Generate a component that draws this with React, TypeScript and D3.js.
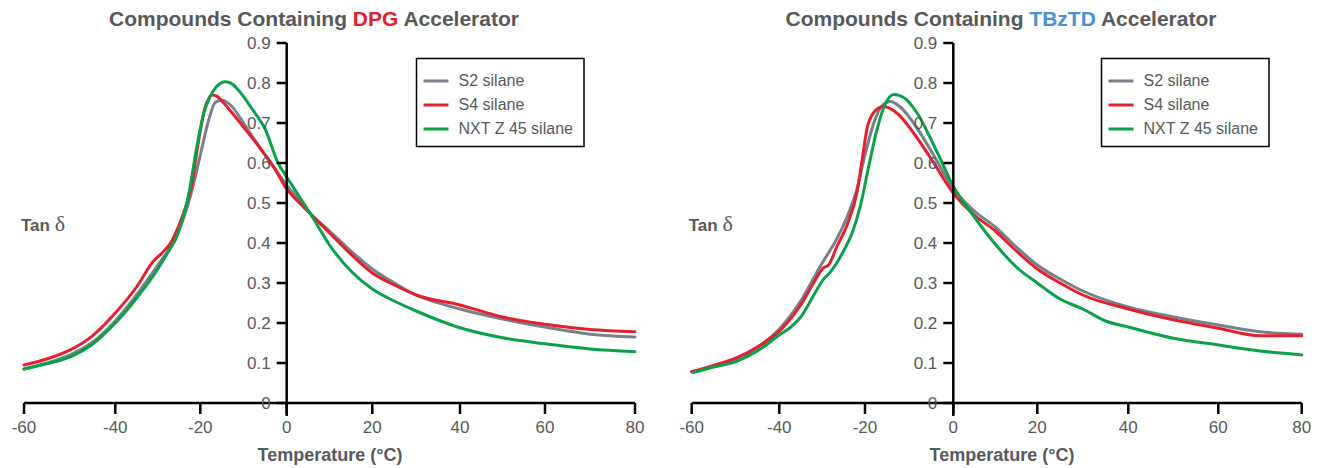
import React from 'react';
import * as d3 from 'd3';

// ---------- data ----------
const xTicks = [-60, -40, -20, 0, 20, 40, 60, 80];
const yTicks = [0, 0.1, 0.2, 0.3, 0.4, 0.5, 0.6, 0.7, 0.8, 0.9];
const seriesNames = ['S2 silane', 'S4 silane', 'NXT Z 45 silane'];
const seriesColors = ['#78818b', '#e5202e', '#0ba14b'];

// DPG accelerator
const dpgS2Temp = [-60, -55, -50, -45, -40, -35, -30, -27, -24, -22, -20, -18, -16.5, -15, -13, -10, -6, -3, 0, 3, 6, 10, 15, 20, 25, 30, 40, 50, 60, 70, 80];
const dpgS2Tan = [0.085, 0.1, 0.12, 0.152, 0.205, 0.27, 0.345, 0.39, 0.46, 0.53, 0.62, 0.71, 0.752, 0.757, 0.745, 0.7, 0.635, 0.59, 0.545, 0.505, 0.468, 0.43, 0.38, 0.335, 0.3, 0.27, 0.235, 0.21, 0.19, 0.172, 0.165];

const dpgS4Temp = [-60, -55, -50, -45, -40, -35, -31, -29, -27, -25, -23, -22, -21, -20, -19, -18, -17.3, -16, -15, -13, -10, -6, -3, 0, 3, 6, 10, 15, 20, 25, 30, 40, 50, 60, 70, 80];
const dpgS4Tan = [0.095, 0.11, 0.132, 0.168, 0.225, 0.29, 0.355, 0.375, 0.4, 0.445, 0.505, 0.545, 0.615, 0.68, 0.735, 0.762, 0.77, 0.766, 0.755, 0.73, 0.69, 0.635, 0.59, 0.535, 0.5, 0.468, 0.425, 0.372, 0.325, 0.295, 0.27, 0.245, 0.215, 0.197, 0.184, 0.178];

const dpgNxtTemp = [-60, -55, -50, -45, -40, -35, -30, -28, -25, -22.4, -21, -19.3, -17, -15.5, -14.3, -13, -11, -8, -5, -2, 0, 3, 6, 10, 15, 20, 25, 30, 40, 50, 60, 70, 80];
const dpgNxtTan = [0.085, 0.098, 0.115, 0.147, 0.2, 0.262, 0.335, 0.37, 0.43, 0.54, 0.63, 0.72, 0.78, 0.798, 0.803, 0.8, 0.78, 0.735, 0.685, 0.6, 0.565, 0.515, 0.465, 0.395, 0.33, 0.285, 0.255, 0.23, 0.188, 0.163, 0.148, 0.135, 0.128];

// TBzTD accelerator
const tbzS2Temp = [-60, -55, -50, -45, -40, -35, -30, -26.6, -24, -22, -20, -18, -16, -14.3, -12, -9, -5, 0, 5, 10, 15, 20, 25, 30, 40, 50, 60, 70, 80];
const tbzS2Tan = [0.078, 0.092, 0.108, 0.138, 0.185, 0.255, 0.35, 0.41, 0.47, 0.53, 0.62, 0.7, 0.745, 0.754, 0.74, 0.7, 0.63, 0.535, 0.48, 0.44, 0.39, 0.345, 0.31, 0.28, 0.24, 0.215, 0.195, 0.178, 0.172];

const tbzS4Temp = [-60, -55, -50, -45, -39.1, -35, -32, -29.7, -28.5, -26.6, -24, -21.9, -20.5, -19.6, -18.1, -15.8, -12.8, -9, -5, 0, 5, 10, 15, 20, 25, 30, 40, 50, 60, 70, 75, 80];
const tbzS4Tan = [0.078, 0.094, 0.112, 0.14, 0.189, 0.245, 0.3, 0.338, 0.345, 0.39, 0.45, 0.525, 0.62, 0.683, 0.725, 0.741, 0.725, 0.675, 0.61, 0.525, 0.47, 0.43, 0.38, 0.335, 0.3, 0.27, 0.235, 0.208, 0.187, 0.168, 0.168, 0.168];

const tbzNxtTemp = [-59.6, -55, -50, -45, -40, -37.3, -35, -33, -29.7, -28.2, -25, -23, -21.1, -19, -17.3, -15.5, -13.5, -11, -8.2, -4, 0, 5, 10, 15, 20, 25, 30, 35, 40, 50, 60, 70, 80];
const tbzNxtTan = [0.076, 0.09, 0.103, 0.13, 0.17, 0.19, 0.215, 0.25, 0.309, 0.326, 0.38, 0.425, 0.492, 0.6, 0.683, 0.745, 0.771, 0.762, 0.725, 0.635, 0.542, 0.465, 0.397, 0.34, 0.3, 0.26, 0.235, 0.205, 0.19, 0.162, 0.145, 0.13, 0.12];

type Series = { temp: number[]; tan: number[] };

const dpgSeries: Series[] = [
  { temp: dpgS2Temp, tan: dpgS2Tan },
  { temp: dpgS4Temp, tan: dpgS4Tan },
  { temp: dpgNxtTemp, tan: dpgNxtTan },
];
const tbzSeries: Series[] = [
  { temp: tbzS2Temp, tan: tbzS2Tan },
  { temp: tbzS4Temp, tan: tbzS4Tan },
  { temp: tbzNxtTemp, tan: tbzNxtTan },
];

// ---------- layout ----------
const W = 1325;
const H = 468;
const FONT = '"Liberation Sans", Arial, Helvetica, sans-serif';
const TEXT = '#58595b';

type PanelProps = {
  xRange: number[];
  series: Series[];
  accel: string;
  accelColor: string;
  titleX: number;
  labelX: number;
  legendX: number;
  legendW: number;
};

function Panel({ xRange, series, accel, accelColor, titleX, labelX, legendX, legendW }: PanelProps) {
  const x = d3.scaleLinear().domain(xTicks).range(xRange);
  const y = d3.scaleLinear().domain([0, 0.9]).range([403, 43]);
  const line = d3
    .line<[number, number]>()
    .x((d) => x(d[0]))
    .y((d) => y(d[1]))
    .curve(d3.curveMonotoneX);
  const x0 = x(0);
  const xl = x(-60);
  const xr = x(80);
  const y0 = y(0);
  const fmt = (v: number) => (v === 0 ? '0' : d3.format('.1f')(v));

  return (
    <g>
      <text x={titleX} y={26} textAnchor="middle" fontFamily={FONT} fontWeight="bold" fontSize={21} fill={TEXT}>
        Compounds Containing <tspan fill={accelColor}>{accel}</tspan> Accelerator
      </text>

      {/* curves */}
      {series.map((s, i) => (
        <path
          key={i}
          d={line(s.temp.map((t, j) => [t, s.tan[j]] as [number, number])) || ''}
          fill="none"
          stroke={seriesColors[i]}
          strokeWidth={3}
          strokeLinejoin="round"
          strokeLinecap="round"
        />
      ))}

      {/* x axis */}
      <line x1={xl} x2={xr} y1={y0} y2={y0} stroke="#000" strokeWidth={2.5} />
      {xTicks.map((t) => (
        <g key={t}>
          <line x1={x(t)} x2={x(t)} y1={y0} y2={y0 + 11} stroke="#000" strokeWidth={2.5} />
          <text x={x(t)} y={y0 + 30} textAnchor="middle" fontFamily={FONT} fontSize={17} fill={TEXT}>
            {t}
          </text>
        </g>
      ))}
      <text x={labelX} y={461} textAnchor="middle" fontFamily={FONT} fontWeight="bold" fontSize={18} fill={TEXT}>
        Temperature (°C)
      </text>

      {/* y axis */}
      <line x1={x0} x2={x0} y1={y(0.9)} y2={y0 + 13} stroke="#000" strokeWidth={2.5} />
      {yTicks.map((v) => (
        <g key={v}>
          <line x1={x0 - 10} x2={x0} y1={y(v)} y2={y(v)} stroke="#000" strokeWidth={2.5} />
          <text x={x0 - 16} y={y(v)} dy="0.36em" textAnchor="end" fontFamily={FONT} fontSize={17} fill={TEXT}>
            {fmt(v)}
          </text>
        </g>
      ))}
      <text x={xl - 3} y={231} fontFamily={FONT} fill={TEXT}>
        <tspan fontWeight="bold" fontSize={17}>Tan </tspan>
        <tspan fontFamily='"Liberation Serif", "DejaVu Serif", serif' fontSize={22}>δ</tspan>
      </text>

      {/* legend */}
      <rect x={legendX} y={58.5} width={legendW} height={88} fill="#fff" stroke="#000" strokeWidth={1.5} />
      {seriesNames.map((n, i) => (
        <g key={n}>
          <line x1={legendX + 7} x2={legendX + 32} y1={81 + i * 24} y2={81 + i * 24} stroke={seriesColors[i]} strokeWidth={3} />
          <text x={legendX + 42} y={80 + i * 24} dy="0.35em" fontFamily={FONT} fontSize={16} fill={TEXT}>
            {n}
          </text>
        </g>
      ))}
    </g>
  );
}

export default function App() {
  return (
    <svg width={W} height={H} style={{ position: 'absolute', left: 0, top: 0, background: '#fff' }}>
      <rect width={W} height={H} fill="#fff" />
      <Panel
        xRange={[24, 115.3, 200.3, 286.7, 372.3, 460, 545, 635]}
        series={dpgSeries}
        accel="DPG"
        accelColor="#e5202e"
        titleX={314}
        labelX={330}
        legendX={416.5}
        legendW={167.5}
      />
      <Panel
        xRange={[691.7, 779.3, 865, 953.3, 1037.3, 1128.3, 1218.3, 1301.7]}
        series={tbzSeries}
        accel="TBzTD"
        accelColor="#4a90d2"
        titleX={1001}
        labelX={1002}
        legendX={1101.5}
        legendW={167.5}
      />
    </svg>
  );
}
